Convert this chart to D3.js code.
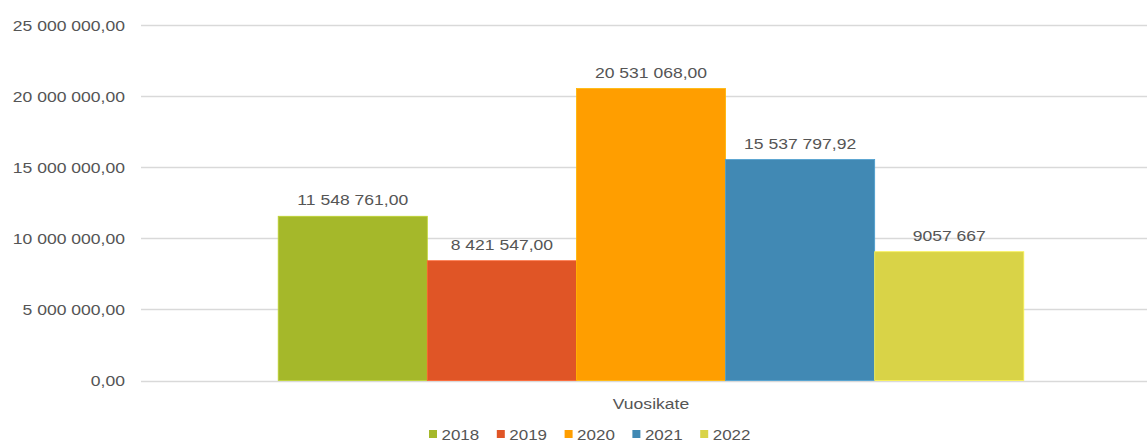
<!DOCTYPE html>
<html>
<head>
<meta charset="utf-8">
<script src="https://cdn.jsdelivr.net/npm/d3@7"></script>
<style>
  body { margin: 0; background: #fff; }
  text { font-family: "Liberation Sans", Arial, sans-serif; fill: #555; }
</style>
</head>
<body>
<div id="chart"></div>
<script>
const category = 'Vuosikate'
const years = ['2018', '2019', '2020', '2021', '2022']
const values = [11548761, 8421547, 20531068, 15537797.92, 9057667]
const valueLabels = ['11 548 761,00', '8 421 547,00', '20 531 068,00', '15 537 797,92', '9057 667']
const colors = ['#a5b82a', '#e05526', '#ff9e00', '#4189b4', '#d9d347']
const yTicks = [0, 5000000, 10000000, 15000000, 20000000, 25000000]

const width = 1147
const height = 444
const margin = { left: 141, right: -14, top: 25, bottom: 63.5 }
const stretch = 1.17

const fi = d3.formatLocale({ decimal: ',', thousands: '\u00a0', grouping: [3], currency: ['', ''] })
const fmt = fi.format(',.2f')

const svg = d3.select('#chart')
  .append('svg')
  .attr('width', width)
  .attr('height', height)

const yScale = d3.scaleLinear()
  .domain([0, 25000000])
  .range([height - margin.bottom, margin.top])

const xScale = d3.scaleBand()
  .domain([category])
  .range([margin.left, width - margin.right])
  .paddingOuter(0.184)
  .paddingInner(0)

const xInner = d3.scaleBand()
  .domain(years)
  .range([0, xScale.bandwidth()])

// stretched text helper (the reference font is wide)
const label = (g, x, y, txt, anchor, size) => g.append('text')
  .attr('transform', `translate(${x},${y}) scale(${stretch},1)`)
  .attr('text-anchor', anchor)
  .attr('font-size', size)
  .text(txt)

// grid
svg.append('g')
  .attr('class', 'grid')
  .selectAll('line')
  .data(yTicks)
  .join('line')
  .attr('x1', margin.left)
  .attr('x2', width)
  .attr('y1', d => Math.round(yScale(d)) + 0.5)
  .attr('y2', d => Math.round(yScale(d)) + 0.5)
  .attr('stroke', '#d9d9d9')
  .attr('stroke-width', 1.3)

// y tick labels
const yAxis = svg.append('g').attr('class', 'y-axis')
yTicks.forEach(t => label(yAxis, 125, yScale(t) + 5.5, fmt(t), 'end', '15px'))

// bars
const bars = svg.append('g').attr('class', 'bars')
  .attr('transform', `translate(${xScale(category)},0)`)

bars.selectAll('rect')
  .data(years)
  .join('rect')
  .attr('x', d => xInner(d))
  .attr('width', xInner.bandwidth())
  .attr('y', (d, i) => yScale(values[i]))
  .attr('height', (d, i) => yScale(0) - yScale(values[i]))
  .attr('fill', (d, i) => colors[i])
  .attr('stroke', (d, i) => d3.color(colors[i]).brighter(0.4))
  .attr('stroke-width', 0.8)

// value labels
years.forEach((d, i) => label(bars, xInner(d) + xInner.bandwidth() / 2, yScale(values[i]) - 11, valueLabels[i], 'middle', '15px'))

// category label
label(svg, xScale(category) + xScale.bandwidth() / 2, 409, category, 'middle', '15px')

// legend
const legend = svg.append('g').attr('class', 'legend')
  .attr('transform', 'translate(429,0)')

const item = legend.selectAll('g')
  .data(years)
  .join('g')
  .attr('transform', (d, i) => `translate(${i * 67.8},0)`)

item.append('rect')
  .attr('x', 0)
  .attr('y', 430)
  .attr('width', 8)
  .attr('height', 8)
  .attr('fill', (d, i) => colors[i])

item.each(function (d) {
  label(d3.select(this), 12.5, 440, d, 'start', '14.5px')
})
</script>
</body>
</html>
